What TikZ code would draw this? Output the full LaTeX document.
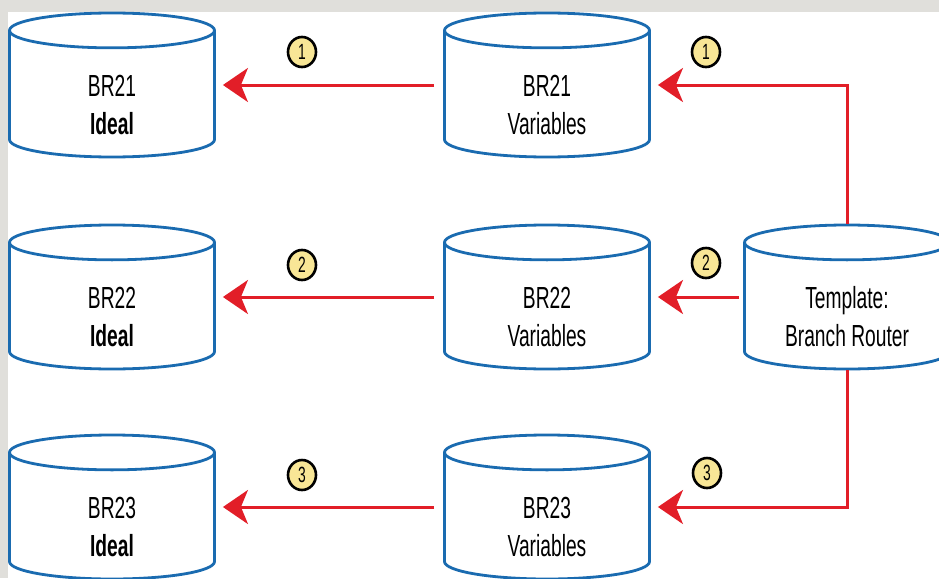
\documentclass[tikz,border=0pt]{standalone}
\usepackage{fontspec}
\setmainfont[FakeStretch=0.63]{Liberation Sans}
\usetikzlibrary{shapes.geometric, arrows.meta, positioning}
\definecolor{dbblue}{RGB}{26,107,176}
\definecolor{flowred}{RGB}{226,30,40}
\definecolor{stepyellow}{RGB}{248,230,150}
\definecolor{edgegray}{RGB}{224,223,219}

\begin{document}
\begin{tikzpicture}[
    x=1pt, y=-1pt,
    db/.style={cylinder, shape border rotate=90, aspect=0.17, draw=dbblue, line width=2.8pt, fill=white, inner xsep=102.5pt, inner ysep=0pt, minimum width=205pt, minimum height=144pt, anchor=shape center},
    dblabel/.style={align=center, font=\fontsize{30.5}{38}\selectfont, yshift=-1.5pt},
    badge/.style={ellipse, draw, line width=2.6pt, fill=stepyellow, minimum width=28pt, minimum height=30pt, inner sep=0pt, font=\fontsize{22}{22}\selectfont},
    arrow/.style={-{Stealth[length=25pt, width=34pt, inset=7pt]}, line width=3pt, draw=flowred}
  ]
    % page with the grey edge at top and left
    \fill[white] (0,0) rectangle (939,578);
    \fill[edgegray] (0,0) rectangle (939,12);
    \fill[edgegray] (0,0) rectangle (8,578);
    \useasboundingbox (0,0) rectangle (939,578);

    % Ideal configs - left column
    \node[db, label={[dblabel]center:{BR21\\\textbf{Ideal}}}] (ideal1) at (112,85) {};
    \node[db, label={[dblabel]center:{BR22\\\textbf{Ideal}}}] (ideal2) at (112,297) {};
    \node[db, label={[dblabel]center:{BR23\\\textbf{Ideal}}}] (ideal3) at (112,507) {};

    % Variables - middle column
    \node[db, label={[dblabel]center:{BR21\\Variables}}] (var1) at (547,85) {};
    \node[db, label={[dblabel]center:{BR22\\Variables}}] (var2) at (547,297) {};
    \node[db, label={[dblabel]center:{BR23\\Variables}}] (var3) at (547,507) {};

    % Template - right
    \node[db, label={[dblabel]center:{Template:\\Branch Router}}] (tmpl) at (847,297) {};

    % Arrows from template to variables
    \draw[arrow, shorten >=7pt] (tmpl.north) |- (var1.east |- var1.shape center);
    \draw[arrow, shorten <=4pt, shorten >=7pt] (tmpl.west |- tmpl.shape center) -- (var2.east |- var2.shape center);
    \draw[arrow, shorten >=7pt] (tmpl.south) |- (var3.east |- var3.shape center);

    % Arrows from variables to ideal configs
    \draw[arrow, shorten <=9pt, shorten >=7pt] (var1.west |- var1.shape center) -- (ideal1.east |- ideal1.shape center);
    \draw[arrow, shorten <=9pt, shorten >=7pt] (var2.west |- var2.shape center) -- (ideal2.east |- ideal2.shape center);
    \draw[arrow, shorten <=9pt, shorten >=7pt] (var3.west |- var3.shape center) -- (ideal3.east |- ideal3.shape center);

    % Step numbers
    \node[badge] (s1a) at (302,52) {1};
    \node[badge] (s2a) at (302,265) {2};
    \node[badge] (s3a) at (302,475) {3};
    \node[badge] (s1b) at (706,52) {1};
    \node[badge] (s2b) at (706,263) {2};
    \node[badge] (s3b) at (707,473) {3};
  \end{tikzpicture}
\end{document}
